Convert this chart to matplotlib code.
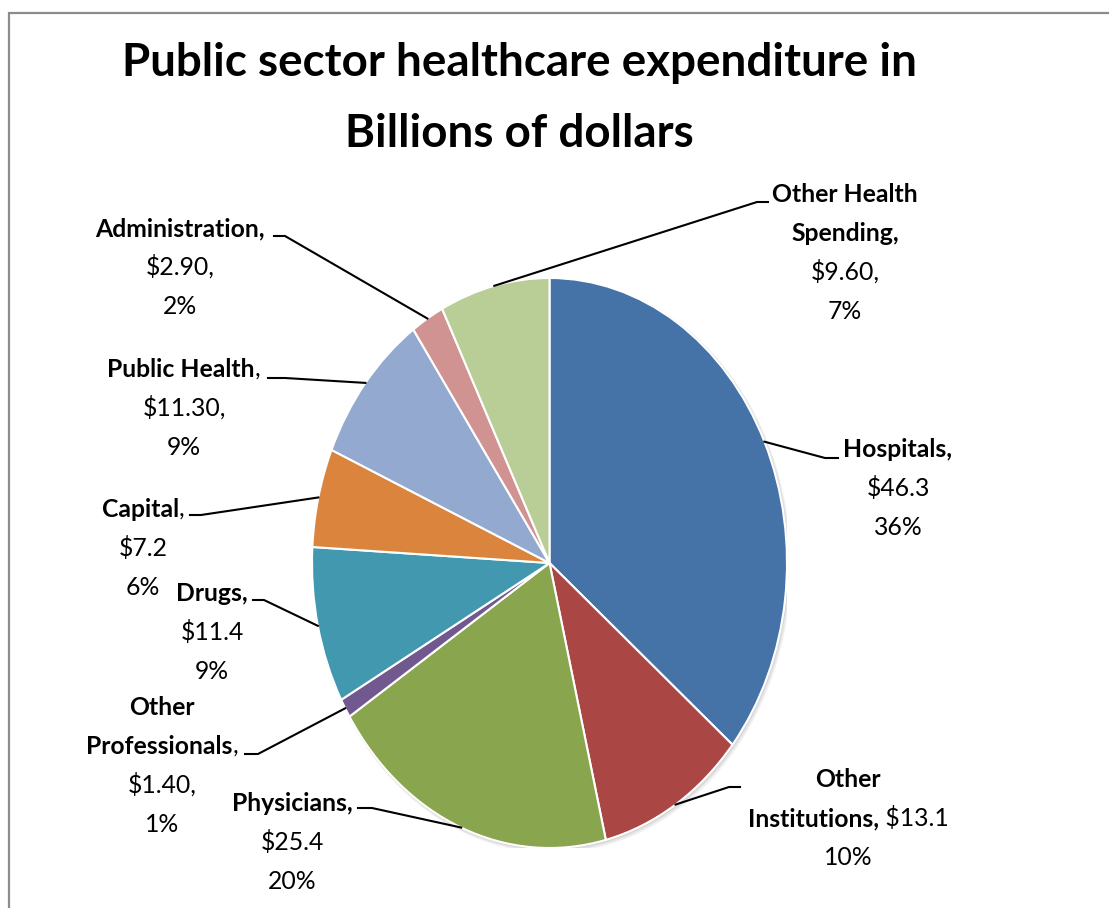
import matplotlib
matplotlib.use('Agg')
import matplotlib.pyplot as plt
from matplotlib import font_manager
from matplotlib.patches import Rectangle, Ellipse
from matplotlib.lines import Line2D
import numpy as np

# ---------------- data ----------------
categories = ['Hospitals', 'Other Institutions', 'Physicians', 'Other Professionals',
              'Drugs', 'Capital', 'Public Health', 'Administration', 'Other Health Spending']
values = [46.3, 13.1, 25.4, 1.4, 11.4, 7.2, 11.3, 2.9, 9.6]
value_labels = ['$46.3', '$13.1', '$25.4', '$1.40,', '$11.4', '$7.2', '$11.30,', '$2.90,', '$9.60,']
pct_labels = ['36%', '10%', '20%', '1%', '9%', '6%', '9%', '2%', '7%']
colors = ['#4572A7', '#AA4643', '#89A54E', '#71588F', '#4198AF',
          '#DB843D', '#93A9CF', '#D19392', '#B9CD96']
title_lines = ['Public sector healthcare expenditure in', 'Billions of dollars']

# label text structure: lines of (text, bold) segments
label_lines = [
    [[('Hospitals,', True)], [(value_labels[0], False)], [(pct_labels[0], False)]],
    [[('Other', True)], [('Institutions,', True), (' ' + value_labels[1], False)], [(pct_labels[1], False)]],
    [[('Physicians,', True)], [(value_labels[2], False)], [(pct_labels[2], False)]],
    [[('Other', True)], [('Professionals', True), (',', False)], [(value_labels[3], False)], [(pct_labels[3], False)]],
    [[('Drugs,', True)], [(value_labels[4], False)], [(pct_labels[4], False)]],
    [[('Capital', True), (',', False)], [(value_labels[5], False)], [(pct_labels[5], False)]],
    [[('Public Health', True), (',', False)], [(value_labels[6], False)], [(pct_labels[6], False)]],
    [[('Administration,', True)], [(value_labels[7], False)], [(pct_labels[7], False)]],
    [[('Other Health', True)], [('Spending,', True)], [(value_labels[8], False)], [(pct_labels[8], False)]],
]
# layout (pixels, top-origin): label centre x, first baseline y, leader knee, leader end
label_pos = [(898, 457), (848, 787), (292, 811), (162, 715), (212, 601),
             (143, 517), (184, 377), (180, 236), (845, 202)]
leader_knee = [(825, 458), (729, 787), (372, 808), (258, 754), (264, 600),
               (201, 515), (285, 378), (285, 236), (757, 202)]
leader_end = [(838, 458), (740, 787), (358, 808), (245, 754), (253, 600),
              (190, 515), (268, 378), (274, 236), (768, 202)]
LINE_GAP = 39

# ---------------- fonts ----------------
names = {f.name for f in font_manager.fontManager.ttflist}
FONT = 'Liberation Sans Narrow' if 'Liberation Sans Narrow' in names else 'Lato'

W, H = 1109, 908
fig = plt.figure(figsize=(W / 100, H / 100), dpi=100)
fig.patch.set_facecolor('white')
renderer = fig.canvas.get_renderer()


def fx(x):
    return x / W


def fy(y):
    return 1 - y / H


def text_width(s, bold, size):
    t = fig.text(0, 0, s, fontsize=size, fontweight='bold' if bold else 'normal', family=FONT)
    w = t.get_window_extent(renderer).width
    t.remove()
    return w


# fit sizes to reference widths
title_size = 10 * 798 / text_width(title_lines[0], True, 10)
bold_size = 10 * 153 / text_width('Professionals,', True, 10)
reg_size = 10 * 83 / text_width('$11.30,', False, 10)

# border
fig.add_artist(Rectangle((fx(9), -0.1), 1.5, fy(13) + 0.1, transform=fig.transFigure,
                         fill=False, edgecolor='#8c8c8c', linewidth=1.6))

# title
for i, line in enumerate(title_lines):
    fig.text(fx(519), fy(76 + 71 * i), line, ha='center', va='baseline',
             fontsize=title_size, fontweight='bold', family=FONT)

# pie
cx, cy, rx, ry = 549.5, 563, 237.5, 285
ax = fig.add_axes([fx(cx - rx), fy(cy + ry), 2 * rx / W, 2 * ry / H])
# soft shadow
for k, a in zip([0.016, 0.011, 0.006], [0.12, 0.16, 0.22]):
    ax.add_patch(Ellipse((k * 0.6, -k * 0.6), 2.0 + k, 2.0 + k, facecolor='#999999',
                         edgecolor='none', alpha=a))
wedges, _ = ax.pie(values, colors=colors, startangle=90, counterclock=False,
                   wedgeprops=dict(edgecolor='white', linewidth=1.5))
ax.set_aspect('auto')
ax.set_xlim(-1, 1)
ax.set_ylim(-1, 1)
ax.axis('off')

# leader lines
inv = fig.transFigure.inverted()
for w, knee, end in zip(wedges, leader_knee, leader_end):
    th = np.deg2rad((w.theta1 + w.theta2) / 2)
    p = inv.transform(ax.transData.transform((np.cos(th), np.sin(th))))
    xs = [p[0], fx(knee[0]), fx(end[0])]
    ys = [p[1], fy(knee[1]), fy(end[1])]
    fig.add_artist(Line2D(xs, ys, transform=fig.transFigure, color='black', linewidth=1.5))

# labels
for lines, (lx, ly) in zip(label_lines, label_pos):
    for i, segs in enumerate(lines):
        widths = [text_width(s, b, bold_size if b else reg_size) for s, b in segs]
        x = lx - sum(widths) / 2
        y = ly + LINE_GAP * i
        for (s, b), wd in zip(segs, widths):
            fig.text(fx(x), fy(y), s, ha='left', va='baseline',
                     fontsize=bold_size if b else reg_size,
                     fontweight='bold' if b else 'normal', family=FONT)
            x += wd

fig.savefig('out.png', dpi=100, facecolor='white')
